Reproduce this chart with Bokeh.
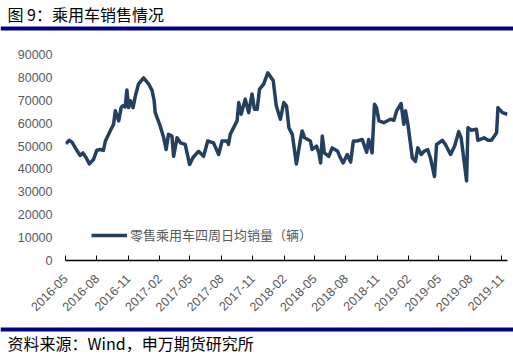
import pandas as pd
from bokeh.plotting import figure
from bokeh.layouts import column, row
from bokeh.models import (FixedTicker, DatetimeTickFormatter, NumeralTickFormatter,
                          Legend, LegendItem, Range1d)
from bokeh.core.properties import value
from bokeh.embed import file_html
from bokeh.resources import INLINE
from math import pi

title_text = "图 9：乘用车销售情况"
source_text = "资料来源：Wind，申万期货研究所"
series_name = "零售乘用车四周日均销量（辆）"

dates = [
    "2016-05-02", "2016-05-12", "2016-05-20", "2016-06-05", "2016-06-13", "2016-06-21",
    "2016-07-01", "2016-07-10", "2016-07-22", "2016-08-01", "2016-08-11", "2016-08-20",
    "2016-08-26", "2016-09-09", "2016-09-19", "2016-09-24", "2016-10-04", "2016-10-11",
    "2016-10-16", "2016-10-23", "2016-10-28", "2016-11-02", "2016-11-07", "2016-11-15",
    "2016-11-22", "2016-12-01", "2016-12-16", "2016-12-31", "2017-01-10", "2017-01-16",
    "2017-01-19", "2017-02-01", "2017-02-13", "2017-02-20", "2017-02-27", "2017-03-09",
    "2017-03-14", "2017-03-24", "2017-04-03", "2017-04-17", "2017-04-30", "2017-05-10",
    "2017-05-26", "2017-06-10", "2017-06-22", "2017-07-09", "2017-07-24", "2017-08-03",
    "2017-08-18", "2017-08-22", "2017-08-27", "2017-09-16", "2017-09-21", "2017-09-28",
    "2017-10-10", "2017-10-20", "2017-10-30", "2017-11-06", "2017-11-14", "2017-11-21",
    "2017-12-03", "2017-12-15", "2017-12-31", "2018-01-09", "2018-01-21", "2018-01-31",
    "2018-02-08", "2018-02-15", "2018-02-25", "2018-03-09", "2018-03-21", "2018-03-26",
    "2018-04-02", "2018-04-11", "2018-04-19", "2018-04-24", "2018-05-07", "2018-05-14",
    "2018-05-19", "2018-05-24", "2018-05-30", "2018-06-12", "2018-06-22", "2018-07-08",
    "2018-07-14", "2018-07-24", "2018-08-05", "2018-08-15", "2018-08-23", "2018-09-03",
    "2018-09-18", "2018-10-01", "2018-10-07", "2018-10-17", "2018-10-24", "2018-10-30",
    "2018-11-06", "2018-11-20", "2018-12-10", "2018-12-20", "2018-12-28", "2019-01-10",
    "2019-01-18", "2019-01-23", "2019-01-30", "2019-02-12", "2019-02-21", "2019-02-28",
    "2019-03-10", "2019-03-18", "2019-03-29", "2019-04-06", "2019-04-18", "2019-04-24",
    "2019-05-11", "2019-05-20", "2019-06-04", "2019-06-16", "2019-06-28", "2019-07-05",
    "2019-07-21", "2019-07-25", "2019-08-04", "2019-08-19", "2019-08-23", "2019-09-10",
    "2019-09-22", "2019-10-02", "2019-10-17", "2019-10-21", "2019-11-03", "2019-11-18",
]

sales = [
    51000, 52500, 51700, 47700, 45900, 47000,
    44800, 42200, 44100, 48200, 48500, 48100,
    52200, 56600, 59500, 65400, 61000, 66800,
    67600, 67100, 74500, 66800, 69800, 66800,
    72000, 77100, 79800, 77100, 74200, 69800,
    64600, 59500, 53600, 48500, 55100, 54400,
    45500, 53600, 51400, 50700, 41900, 45000,
    47700, 45500, 52200, 51400, 46300, 52200,
    52200, 50700, 55100, 61000, 69000, 63900,
    70500, 64600, 72700, 66100, 66100, 74900,
    77100, 82000, 78600, 67600, 61700, 69000,
    67600, 58000, 55100, 42200, 52900, 56600,
    53600, 52900, 52200, 48500, 50000, 47000,
    42600, 54400, 47000, 45500, 49200, 47700,
    45500, 42600, 46300, 43000, 52200, 52200,
    52900, 47300, 52900, 47000, 68300, 66800,
    61000, 60200, 61700, 61300, 65400, 68600,
    59500, 65400, 59500, 44800, 43300, 49200,
    46300, 47700, 48500, 44800, 36700, 50700,
    52500, 50700, 46300, 50000, 56300, 53600,
    34800, 58000, 56900, 57300, 52500, 53600,
    52500, 52500, 55800, 66800, 64600, 63900,
]

x_tick_labels = ["2016-05", "2016-08", "2016-11", "2017-02", "2017-05", "2017-08",
                 "2017-11", "2018-02", "2018-05", "2018-08", "2018-11", "2019-02",
                 "2019-05", "2019-08", "2019-11"]
y_ticks = [0, 10000, 20000, 30000, 40000, 50000, 60000, 70000, 80000, 90000]

W = 513
CJK = "Noto Sans CJK SC"
LINE_COLOR = "#243F60"
RULE_COLOR = "#000080"
GREY = "#595959"


def strip(height):
    s = figure(width=W, height=height, output_backend="svg", toolbar_location=None,
               x_range=Range1d(0, W), y_range=Range1d(0, height),
               x_axis_location=None, y_axis_location=None,
               min_border=0, min_border_left=0, min_border_right=0,
               min_border_top=0, min_border_bottom=0)
    s.grid.visible = False
    s.outline_line_color = None
    return s


# ---- title strip ----
t = strip(32)
t.text(x=[7], y=[19], text=[title_text], text_font=value(CJK),
       text_font_size="16px", text_color="#000000", text_baseline="middle",
       text_align="left")
t.quad(left=[0], right=[W], bottom=[2], top=[6], fill_color=RULE_COLOR,
       line_color=None)

# ---- main chart ----
dt = pd.to_datetime(dates)
p = figure(width=W, height=292, output_backend="svg", toolbar_location=None,
           x_axis_type="datetime",
           x_range=Range1d(pd.Timestamp(x_tick_labels[0] + "-01"), dt[-1]),
           y_range=Range1d(0, 90000),
           min_border_left=65, min_border_right=6, min_border_top=22,
           min_border_bottom=64)
p.grid.visible = False
p.outline_line_color = None

r = p.line(dt, sales, line_color=LINE_COLOR, line_width=3.5, line_join="round")

xt = [pd.Timestamp(s + "-01").value // 10**6 for s in x_tick_labels]
p.xaxis.ticker = FixedTicker(ticks=xt)
fmt = "%Y-%m"
p.xaxis.formatter = DatetimeTickFormatter(years=fmt, months=fmt, days=fmt,
                                          hours=fmt, minutes=fmt)
p.xaxis.major_label_orientation = pi / 4
p.xaxis.major_tick_in = 5
p.xaxis.major_tick_out = 0
p.xaxis.minor_tick_in = 0
p.xaxis.minor_tick_out = 0
p.xaxis.axis_line_color = "#000000"
p.xaxis.axis_line_width = 1.5
p.xaxis.major_tick_line_color = "#000000"
p.xaxis.major_label_text_color = GREY
p.xaxis.major_label_text_font = "Liberation Sans"
p.xaxis.major_label_text_font_size = "12.5px"
p.xaxis.major_label_standoff = 16

p.yaxis.ticker = FixedTicker(ticks=y_ticks)
p.yaxis.formatter = NumeralTickFormatter(format="0")
p.yaxis.axis_line_color = None
p.yaxis.major_tick_line_color = None
p.yaxis.minor_tick_line_color = None
p.yaxis.major_tick_out = 0
p.yaxis.major_tick_in = 0
p.yaxis.major_label_text_color = GREY
p.yaxis.major_label_text_font = "Liberation Sans"
p.yaxis.major_label_text_font_size = "12.5px"
p.yaxis.major_label_standoff = 13

legend = Legend(items=[LegendItem(label=series_name, renderers=[r])],
                location=(26, 16), padding=0, margin=0, spacing=0,
                glyph_width=36, glyph_height=14, label_height=14,
                label_standoff=3, border_line_color=None,
                background_fill_alpha=0,
                label_text_font=CJK, label_text_font_size="13px",
                label_text_color=GREY)
p.add_layout(legend)

# ---- source strip ----
f = strip(31)
f.quad(left=[0], right=[W], bottom=[24], top=[28], fill_color=RULE_COLOR,
       line_color=None)
f.text(x=[7], y=[12.5], text=[source_text], text_font=value(CJK),
       text_font_size="16px", text_color="#000000", text_baseline="middle",
       text_align="left")

layout = column(row(t), p, row(f), spacing=0)
open("out.html", "w").write(file_html(layout, INLINE))
